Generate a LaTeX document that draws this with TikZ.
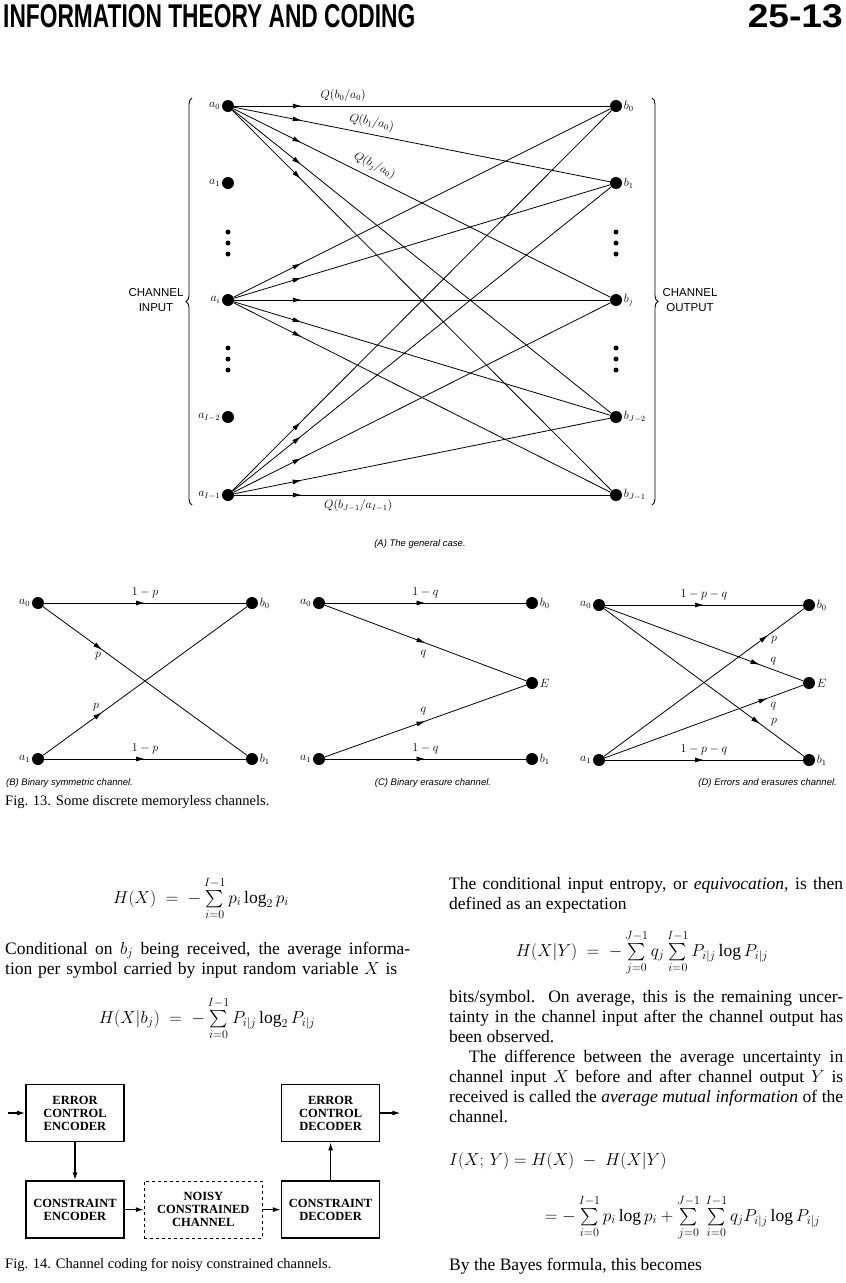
\documentclass[tikz,border=0pt]{standalone}
\usepackage{graphicx}
\usepackage{amsmath}
\usepackage{exscale}
\usepackage{fontspec}
\setmainfont{Liberation Serif}
\setsansfont{Liberation Sans}
\usetikzlibrary{arrows.meta,positioning,decorations.markings,decorations.pathreplacing}
\newcommand{\jline}[2]{\makebox[#1][s]{#2}}

\begin{document}
\begin{tikzpicture}[x=1pt, y=-1pt,
  dot/.style    = {circle, fill=black, inner sep=0pt, minimum size=12pt},
  lbl/.style    = {inner sep=1.5pt, font=\fontsize{12}{13}\selectfont},
  wire/.style   = {line width=0.8pt, postaction={decorate},
                   decoration={markings, mark=at position #1 with
                   {\arrow{Latex[length=9pt,width=5pt]}}}},
  brc/.style    = {decorate, decoration={brace, amplitude=6pt}, line width=0.9pt},
  side/.style   = {align=center, font=\sffamily\fontsize{11.5}{15}\selectfont},
  subcap/.style = {inner sep=0pt, font=\sffamily\itshape\fontsize{9.5}{10}\selectfont},
  body/.style   = {anchor=base west, inner sep=0pt, font=\fontsize{17.5}{20}\selectfont},
  eqn/.style    = {anchor=base, inner sep=0pt, font=\fontsize{17.5}{20}\selectfont},
  figcap/.style = {anchor=base west, inner sep=0pt, font=\fontsize{14.5}{16}\selectfont},
  blk/.style    = {draw, line width=1.6pt, minimum width=98pt, minimum height=57pt,
                   inner sep=0pt, align=center, font=\bfseries\fontsize{12.5}{13}\selectfont},
  flow/.style   = {-{Latex[length=8pt,width=5pt]}, line width=1.3pt}]
\useasboundingbox (0,0) rectangle (846,1283);

\node[anchor=south west, inner sep=0pt] (title) at (3,28)
  {\resizebox{412pt}{23pt}{\sffamily\bfseries INFORMATION THEORY AND CODING}};
\node[anchor=south east, inner sep=0pt] (page) at (843,28)
  {\resizebox{95pt}{23pt}{\sffamily\bfseries 25-13}};

% (A) general channel
\foreach \k/\y/\lab in {0/106/a_0, 1/183/a_1, i/300/a_i, m/417/a_{I-2}, n/495/a_{I-1}}
  \node[dot, label={[lbl]left:$\lab$}] (a\k) at (228,\y) {};
\foreach \k/\y/\lab in {0/106/b_0, 1/183/b_1, j/300/b_j, m/417/b_{J-2}, n/495/b_{J-1}}
  \node[dot, label={[lbl]right:$\lab$}] (b\k) at (616,\y) {};
\foreach \x in {228,616}
  \foreach \y in {232,243,254,348,359,370}
    \fill (\x,\y) circle (2.5pt);
\foreach \s in {0,i,n}
  \foreach \dst in {0,1,j,m,n}
    \draw[wire=0.18] (a\s) -- (b\dst);
\path (a0) -- (b0) node[lbl, pos=0.29, above=3pt] {$Q(b_0/a_0)$};
\path (a0) -- (b1) node[lbl, pos=0.36, above=4pt, sloped] {$Q(b_1/a_0)$};
\path (a0) -- (bj) node[lbl, pos=0.36, above=4pt, sloped] {$Q(b_j/a_0)$};
\path (an) -- (bn) node[lbl, pos=0.33, below=3pt] {$Q(b_{J-1}/a_{I-1})$};
\draw[brc] (192,505) -- (192,98);
\draw[brc] (652,98) -- (652,505);
\node[side] (chin) at (156,300) {CHANNEL\\INPUT};
\node[side] (chout) at (690,300) {CHANNEL\\OUTPUT};
\node[subcap, anchor=base] (capA) at (420,546) {(A) The general case.};

% (B) binary symmetric
\node[dot, label={[lbl]left:$a_0$}] (sa0) at (38,603) {};
\node[dot, label={[lbl]right:$b_0$}] (sb0) at (252,603) {};
\node[dot, label={[lbl]left:$a_1$}] (sa1) at (38,759) {};
\node[dot, label={[lbl]right:$b_1$}] (sb1) at (252,759) {};
\draw[wire=0.5] (sa0) -- node[lbl, above=3pt] {$1-p$} (sb0);
\draw[wire=0.29] (sa0) -- node[lbl, pos=0.27, below=4pt] {$p$} (sb1);
\draw[wire=0.29] (sa1) -- node[lbl, pos=0.26, above=4pt] {$p$} (sb0);
\draw[wire=0.5] (sa1) -- node[lbl, above=3pt] {$1-p$} (sb1);
\node[subcap, anchor=base west] (capB) at (6,785) {(B) Binary symmetric channel.};

% (C) binary erasure
\node[dot, label={[lbl]left:$a_0$}] (ea0) at (319,603) {};
\node[dot, label={[lbl]right:$b_0$}] (eb0) at (532,603) {};
\node[dot, label={[lbl]right:$E$}] (eE) at (532,683) {};
\node[dot, label={[lbl]left:$a_1$}] (ea1) at (319,759) {};
\node[dot, label={[lbl]right:$b_1$}] (eb1) at (532,759) {};
\draw[wire=0.5] (ea0) -- node[lbl, above=3pt] {$1-q$} (eb0);
\draw[wire=0.5] (ea0) -- node[lbl, pos=0.49, below=6pt] {$q$} (eE);
\draw[wire=0.5] (ea1) -- node[lbl, pos=0.49, above=5pt] {$q$} (eE);
\draw[wire=0.5] (ea1) -- node[lbl, above=3pt] {$1-q$} (eb1);
\node[subcap, anchor=base] (capC) at (433,785) {(C) Binary erasure channel.};

% (D) errors and erasures
\node[dot, label={[lbl]left:$a_0$}] (da0) at (599,605) {};
\node[dot, label={[lbl]right:$b_0$}] (db0) at (809,605) {};
\node[dot, label={[lbl]right:$E$}] (dE) at (809,683) {};
\node[dot, label={[lbl]left:$a_1$}] (da1) at (599,760) {};
\node[dot, label={[lbl]right:$b_1$}] (db1) at (809,760) {};
\draw[wire=0.5] (da0) -- node[lbl, above=3pt] {$1-p-q$} (db0);
\draw[wire=0.78] (da0) -- node[lbl, pos=0.85, above=3pt] {$q$} (dE);
\draw[wire=0.78] (da0) -- node[lbl, pos=0.85, above=6pt] {$p$} (db1);
\draw[wire=0.82] (da1) -- node[lbl, pos=0.85, below=4pt] {$p$} (db0);
\draw[wire=0.82] (da1) -- node[lbl, pos=0.85, below=4pt] {$q$} (dE);
\draw[wire=0.5] (da1) -- node[lbl, above=3pt] {$1-p-q$} (db1);
\node[subcap, anchor=base east] (capD) at (837,785) {(D) Errors and erasures channel.};

\node[figcap] (fig13) at (5,805) {Fig. 13. Some discrete memoryless channels.};

% left column
\node[eqn] (hx) at (201,903) {$H(X) \;=\; -\sum\limits_{i=0}^{I-1} p_i \log_2 p_i$};
\node[body] (l1) at (5,954) {\jline{405pt}{Conditional on $b_j$ being received, the average informa-}};
\node[body] (l2) at (5,974) {\jline{392pt}{tion per symbol carried by input random variable $X$ is}};
\node[eqn] (hxb) at (207,1023) {$H(X|b_j) \;=\; -\sum\limits_{i=0}^{I-1} P_{i|j} \log_2 P_{i|j}$};

% Fig. 14
\node[blk] (ece) at (75,1113) {ERROR\\CONTROL\\ENCODER};
\node[blk, below=38pt of ece] (ce) {CONSTRAINT\\ENCODER};
\node[blk, dashed, line width=1pt, minimum width=118pt, right=19pt of ce] (ncc) {NOISY\\CONSTRAINED\\CHANNEL};
\node[blk, right=18pt of ncc] (cd) {CONSTRAINT\\DECODER};
\node[blk, above=38pt of cd] (ecd) {ERROR\\CONTROL\\DECODER};
\coordinate (in) at (8,1113);
\coordinate[right=20pt of ecd.east] (out);
\draw[flow] (in) -- (ece);
\draw[flow] (ece) -- (ce);
\draw[flow] (ce) -- (ncc);
\draw[flow] (ncc) -- (cd);
\draw[flow] (cd) -- (ecd);
\draw[flow] (ecd) -- (out);
\node[figcap] (fig14) at (5,1268) {Fig. 14. Channel coding for noisy constrained channels.};

% right column
\node[body] (r1) at (449,889) {\jline{394pt}{The conditional input entropy, or \textit{equivocation}, is then}};
\node[body] (r2) at (449,909) {defined as an expectation};
\node[eqn] (hxy) at (642,956) {$H(X|Y) \;=\; -\sum\limits_{j=0}^{J-1} q_j \sum\limits_{i=0}^{I-1} P_{i|j} \log P_{i|j}$};
\node[body] (r3) at (449,1002) {\jline{394pt}{bits/symbol. On average, this is the remaining uncer-}};
\node[body] (r4) at (449,1022) {\jline{394pt}{tainty in the channel input after the channel output has}};
\node[body] (r5) at (449,1042) {been observed.};
\node[body] (r6) at (449,1062) {\jline{394pt}{\hspace*{20pt}The difference between the average uncertainty in}};
\node[body] (r7) at (449,1082) {\jline{394pt}{channel input $X$ before and after channel output $Y$ is}};
\node[body] (r8) at (449,1102) {\jline{394pt}{received is called the \textit{average mutual information} of the}};
\node[body] (r9) at (449,1122) {channel.};
\node[body] (r10) at (449,1165) {$I(X;\,Y) = H(X) \;-\; H(X|Y)$};
\node[body] (r11) at (545,1221) {$= -\sum\limits_{i=0}^{I-1} p_i \log p_i + \sum\limits_{j=0}^{J-1}\,\sum\limits_{i=0}^{I-1} q_j P_{i|j} \log P_{i|j}$};
\node[body] (r12) at (449,1270) {By the Bayes formula, this becomes};
\end{tikzpicture}
\end{document}
